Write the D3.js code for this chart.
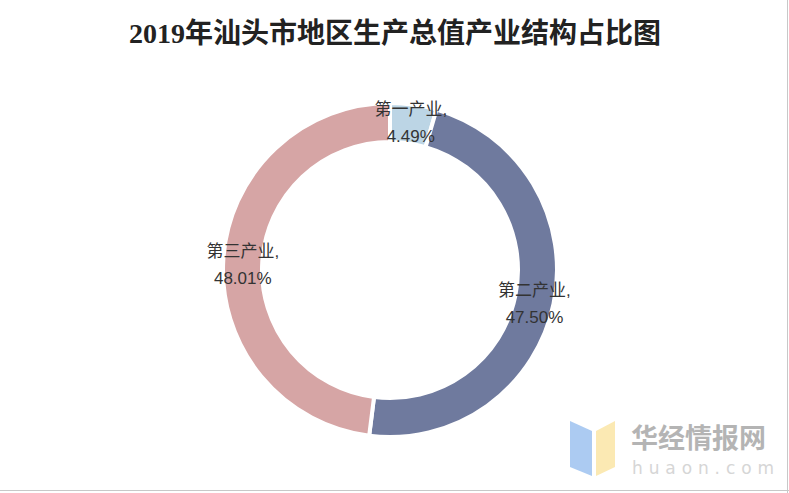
<!DOCTYPE html>
<html>
<head>
<meta charset="utf-8">
<script src="https://cdn.jsdelivr.net/npm/d3@7"></script>
<style>
  body { margin: 0; background: #fff; }
  svg { display: block; }
</style>
</head>
<body>
<script>
'use strict';

// industry share data, 2019
const categories = ['第一产业', '第二产业', '第三产业']
const values = [4.49, 47.50, 48.01]
const colors = ['#bcd5e5', '#6f7a9e', '#d6a5a5']

const m = {
  width: 789,
  height: 493,
  cx: 390,
  cy: 270,
  outer: 167,
  inner: 128
}

const svg = d3.select('body')
  .append('svg')
  .attr('width', m.width)
  .attr('height', m.height)

// title
svg.append('text')
  .attr('x', 395)
  .attr('y', 43)
  .attr('text-anchor', 'middle')
  .style('font-family', '"Liberation Serif", "Noto Sans CJK SC", serif')
  .style('font-weight', 'bold')
  .style('font-size', '28px')
  .style('fill', '#222')
  .text('2019年汕头市地区生产总值产业结构占比图')

const data = categories.map((c, i) => ({ name: c, value: values[i], color: colors[i] }))

const pie = d3.pie()
  .sort(null)
  .value((d) => d.value)

const arc = d3.arc()
  .innerRadius(m.inner)
  .outerRadius(m.outer)

const labelArc = d3.arc()
  .innerRadius((m.inner + m.outer) / 2)
  .outerRadius((m.inner + m.outer) / 2)

const g = svg.append('g')
  .attr('transform', 'translate(' + m.cx + ',' + m.cy + ')')

g.selectAll('path')
  .data(pie(data))
  .enter()
  .append('path')
    .attr('d', arc)
    .style('fill', (d) => d.data.color)
    .style('stroke', '#fff')
    .style('stroke-width', 4)

// labels at the middle of each slice
let labels = g.selectAll('text.lbl')
  .data(pie(data))
  .enter()
  .append('text')
    .attr('class', 'lbl')
    .attr('transform', (d) => 'translate(' + labelArc.centroid(d) + ')')
    .attr('text-anchor', 'middle')
    .style('font-family', '"Liberation Sans", "Noto Sans CJK SC", sans-serif')
    .style('font-size', '17px')
    .style('fill', '#333')

labels.append('tspan')
  .attr('x', 0)
  .attr('dy', (d, i) => i == 0 ? '-0.5em' : '-0.2em')
  .text((d) => d.data.name + ',')

labels.append('tspan')
  .attr('x', 0)
  .attr('dy', '1.55em')
  .text((d) => d.data.value.toFixed(2) + '%')

// watermark
const wm = svg.append('g').style('opacity', 0.85)
wm.append('polygon')
  .attr('points', '570,421 592,431 592,476 570,467')
  .style('fill', '#9ec3f0')
wm.append('polygon')
  .attr('points', '596,431 615,421 615,467 596,476')
  .style('fill', '#fbe6a6')
wm.append('text')
  .attr('x', 631)
  .attr('y', 448)
  .style('font-family', '"Noto Sans CJK SC", sans-serif')
  .style('font-weight', 'bold')
  .style('font-size', '27px')
  .style('fill', '#a8a8a8')
  .text('华经情报网')
wm.append('text')
  .attr('x', 632)
  .attr('y', 474)
  .attr('textLength', 142)
  .style('font-family', '"DejaVu Sans", sans-serif')
  .style('font-size', '17px')
  .style('fill', '#cfcfcf')
  .text('huaon.com')

// frame lines at bottom and right
svg.append('line')
  .attr('x1', 0).attr('y1', 490.5).attr('x2', 789).attr('y2', 490.5)
  .style('stroke', '#c8c8c8')
svg.append('line')
  .attr('x1', 787.5).attr('y1', 0).attr('x2', 787.5).attr('y2', 493)
  .style('stroke', '#c8c8c8')
</script>
</body>
</html>
